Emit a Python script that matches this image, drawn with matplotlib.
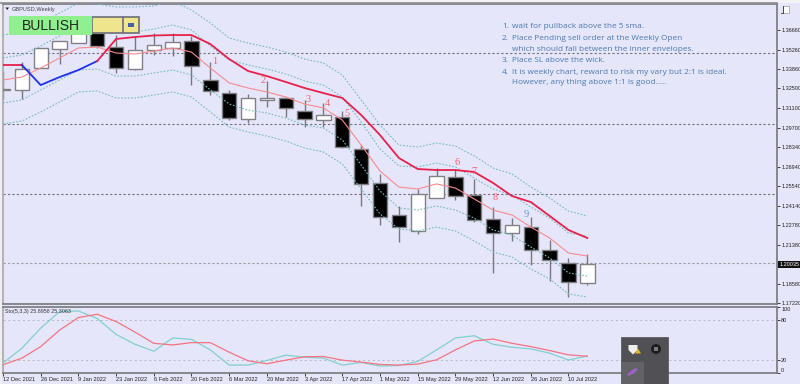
import matplotlib
matplotlib.use('Agg')
import matplotlib.pyplot as plt
from matplotlib.patches import Rectangle, Ellipse, Polygon, Circle

# weekly candles
dates = ['12 Dec 2021', '26 Dec 2021', '9 Jan 2022', '23 Jan 2022', '6 Feb 2022', '20 Feb 2022',
         '6 Mar 2022', '20 Mar 2022', '3 Apr 2022', '17 Apr 2022', '1 May 2022', '15 May 2022',
         '29 May 2022', '12 Jun 2022', '26 Jun 2022', '10 Jul 2022']
opens = [1.3246, 1.3239, 1.3395, 1.3531, 1.3573, 1.3645, 1.3545, 1.3388, 1.3524, 1.3538, 1.3588, 1.3310,
         1.3217, 1.3032, 1.3168, 1.3182, 1.3089, 1.3025, 1.3047, 1.2819, 1.2577, 1.2349, 1.2235, 1.2470,
         1.2619, 1.2491, 1.2320, 1.2221, 1.2263, 1.2100, 1.2007, 1.1865]
closes = [1.3239, 1.3388, 1.3538, 1.3588, 1.3673, 1.3552, 1.3395, 1.3524, 1.3559, 1.3581, 1.3410, 1.3232,
          1.3039, 1.3182, 1.3182, 1.3111, 1.3032, 1.3061, 1.2833, 1.2570, 1.2335, 1.2263, 1.2498, 1.2627,
          1.2484, 1.2313, 1.2221, 1.2278, 1.2100, 1.2028, 1.1872, 1.2003]
highs = [1.3374, 1.3438, 1.3538, 1.3588, 1.3673, 1.3645, 1.3630, 1.3623, 1.3645, 1.3645, 1.3623, 1.3438,
         1.3239, 1.3210, 1.3303, 1.3189, 1.3168, 1.3146, 1.3089, 1.2847, 1.2641, 1.2413, 1.2534, 1.2683,
         1.2676, 1.2605, 1.2406, 1.2327, 1.2335, 1.2171, 1.2043, 1.2071]
lows = [1.3175, 1.3175, 1.3395, 1.3424, 1.3573, 1.3538, 1.3360, 1.3381, 1.3488, 1.3481, 1.3274, 1.3203,
        1.3025, 1.3004, 1.3118, 1.3047, 1.2975, 1.2975, 1.2826, 1.2413, 1.2278, 1.2157, 1.2214, 1.2470,
        1.2456, 1.2299, 1.1936, 1.2164, 1.1990, 1.1879, 1.1765, 1.1850]

# moving averages and envelopes
sma_bold = [1.3417, 1.3417, 1.3274, 1.3331, 1.3381, 1.3445, 1.3602, 1.3616, 1.3627, 1.3630, 1.3630, 1.3566,
            1.3459, 1.3374, 1.3338, 1.3296, 1.3253, 1.3217, 1.3182, 1.3061, 1.2918, 1.2755, 1.2676, 1.2669,
            1.2669, 1.2655, 1.2577, 1.2484, 1.2441, 1.2342, 1.2242, 1.2185]
sma_thin = [1.3310, 1.3331, 1.3395, 1.3467, 1.3538, 1.3545, 1.3502, 1.3495, 1.3516, 1.3538, 1.3509, 1.3395,
            1.3289, 1.3253, 1.3225, 1.3189, 1.3139, 1.3111, 1.3025, 1.2847, 1.2662, 1.2548, 1.2534, 1.2570,
            1.2541, 1.2463, 1.2384, 1.2349, 1.2263, 1.2185, 1.2078, 1.2057]
env_outer_up = [1.3630, 1.3652, 1.3716, 1.3787, 1.3858, 1.3851, 1.3830, 1.3830, 1.3837, 1.3872, 1.3808, 1.3716,
                1.3609, 1.3573, 1.3545, 1.3509, 1.3459, 1.3431, 1.3346, 1.3168, 1.2990, 1.2847, 1.2833, 1.2861,
                1.2840, 1.2769, 1.2683, 1.2641, 1.2548, 1.2470, 1.2377, 1.2342]
env_inner_up = [1.3467, 1.3488, 1.3552, 1.3623, 1.3695, 1.3702, 1.3659, 1.3652, 1.3673, 1.3702, 1.3666, 1.3552,
                1.3452, 1.3417, 1.3388, 1.3353, 1.3303, 1.3274, 1.3189, 1.3011, 1.2819, 1.2698, 1.2691, 1.2719,
                1.2691, 1.2612, 1.2534, 1.2491, 1.2406, 1.2327, 1.2221, 1.2199]
env_inner_dn = [1.3146, 1.3168, 1.3239, 1.3310, 1.3381, 1.3388, 1.3338, 1.3338, 1.3360, 1.3381, 1.3346, 1.3239,
                1.3139, 1.3096, 1.3075, 1.3039, 1.2990, 1.2968, 1.2883, 1.2705, 1.2520, 1.2399, 1.2384, 1.2413,
                1.2384, 1.2327, 1.2242, 1.2206, 1.2121, 1.2043, 1.1936, 1.1914]
env_outer_dn = [1.2997, 1.3018, 1.3082, 1.3153, 1.3225, 1.3232, 1.3182, 1.3182, 1.3203, 1.3225, 1.3189, 1.3082,
                1.2975, 1.2940, 1.2911, 1.2876, 1.2826, 1.2797, 1.2712, 1.2534, 1.2356, 1.2249, 1.2235, 1.2263,
                1.2235, 1.2164, 1.2085, 1.2050, 1.1964, 1.1893, 1.1786, 1.1765]

# stochastic
sto_main = [15, 37.5, 68, 93, 94, 82.5, 58.5, 43.5, 33, 53, 51, 35, 12, 12, 19, 27, 24, 22.5, 12, 16, 10.5, 11.5,
            17.5, 35, 53, 56.5, 43.5, 39, 36.5, 30, 19.5, 25.9]
sto_signal = [12.5, 22.5, 40, 65, 84, 89, 78, 62, 45, 42.5, 46, 46, 31.5, 18.5, 14, 19.5, 24.5, 25, 19.5, 16.5, 13,
              12, 13.5, 20, 35, 48.5, 51.5, 45, 40, 34, 27.5, 25.3]

price_ticks = [1.36660, 1.35260, 1.33860, 1.32500, 1.31100, 1.29700, 1.28340, 1.26940, 1.25540, 1.24140,
               1.22780, 1.21380, 1.18580, 1.17220]
grid_levels = [1.35, 1.30, 1.25]
last_price = 1.20035

# number labels on the chart: text, candle position, price
mark_text = ['1', '2', '3', '4', '5', '6', '7', '8', '9']
mark_x = [11.25, 13.8, 16.2, 17.2, 18.25, 24.1, 25.0, 26.1, 27.75]
mark_y = [1.3445, 1.3303, 1.3168, 1.3146, 1.3075, 1.2726, 1.2662, 1.2470, 1.2349]

notes = ['1.', '2.', '', '3.', '4.', '']
note_lines = ['wait for pullback above the 5 sma.',
              'Place Pending sell order at the Weekly Open',
              'which should fall between the inner envelopes.',
              'Place SL above the wick.',
              'It is weekly chart, reward to risk my vary but 2:1 is ideal.',
              'However, any thing above 1:1 is good.....']

BG = '#e6e6fa'
W, H = 800, 384


def panel(x0, y0, x1, y1):
    return [x0 / W, 1 - y1 / H, (x1 - x0) / W, (y1 - y0) / H]


plt.rcParams['font.family'] = ['Liberation Sans', 'DejaVu Sans']
fig = plt.figure(figsize=(8, 3.84), dpi=100, facecolor=BG)
ax = fig.add_axes(panel(3, 4, 777, 304), facecolor=BG)
ax2 = fig.add_axes(panel(3, 307, 777, 373), facecolor=BG)

x = list(range(len(opens)))
xmax = (777 - 3) / 18.85

# grid under everything
for lvl in grid_levels:
    ax.axhline(lvl, color='#6f7078', lw=0.8, ls=(0, (2, 2)), zorder=1)
ax.axhline(last_price, color='#9a9aa2', lw=0.8, ls=(0, (2, 2)), zorder=1)

# candles
for i in x:
    bull = closes[i] > opens[i]
    top = max(opens[i], closes[i])
    bot = min(opens[i], closes[i])
    ax.vlines(i, lows[i], highs[i], color='#77777d', lw=1.0, zorder=2)
    ax.bar(i, top - bot, bottom=bot, width=0.76, color='white' if bull else 'black',
           edgecolor='#808086', linewidth=1.0, zorder=3)

# envelopes
for env in [env_outer_up, env_inner_up, env_inner_dn, env_outer_dn]:
    ax.plot(x, env, color='#74bcc0', lw=0.8, ls=(0, (1.5, 1.5)), zorder=4)

ax.plot(x, sma_thin, color='#f98a8e', lw=0.8, zorder=5)
ax.plot(x[:2], sma_bold[:2], color='#e8204c', lw=1.3, zorder=5)
ax.plot(x[1:6], sma_bold[1:6], color='#1f2ff0', lw=1.3, zorder=5)
ax.plot(x[5:], sma_bold[5:], color='#e8204c', lw=1.3, zorder=5)

for t, mx, my in zip(mark_text, mark_x, mark_y):
    col = '#6f8fd6' if t == '9' else '#f4606a'
    ax.text(mx, my, t, color=col, fontsize=7.5, family='Liberation Serif', ha='center', va='center', zorder=6)

ax.set_xlim(0, xmax)
ax.set_ylim(1.17151, 1.38511)
ax.yaxis.tick_right()
ax.set_yticks(price_ticks)
ax.set_yticklabels(['%.5f' % p for p in price_ticks])
ax.tick_params(axis='y', length=2, width=0.6, pad=1, labelsize=4, colors='#222222')
ax.set_xticks([])

# stochastic panel
ax2.axhline(80, color='#b8b8c0', lw=0.7, ls=(0, (2, 3)))
ax2.axhline(20, color='#b8b8c0', lw=0.7, ls=(0, (2, 3)))
ax2.plot(x, sto_main, color='#7fd0d0', lw=0.9, zorder=3)
ax2.plot(x, sto_signal, color='#f47480', lw=0.9, zorder=3)
ax2.set_xlim(0, xmax)
ax2.set_ylim(0, 100)
ax2.yaxis.tick_right()
ax2.set_yticks([100, 80, 20, 0])
ax2.set_yticklabels(['100', '80', '20', '0'])
ax2.tick_params(axis='y', length=2, width=0.6, pad=1, labelsize=4, colors='#222222')
ax2.get_yticklabels()[0].set_va('top')
ax2.get_yticklabels()[3].set_va('bottom')
ax2.set_xticks(range(0, 2 * len(dates), 2))
ax2.set_xticklabels(dates, ha='left')
ax2.tick_params(axis='x', length=2, width=0.6, pad=1, labelsize=4.1, colors='#222222')

for a in (ax, ax2):
    for s in a.spines.values():
        s.set_color('#77777d')
        s.set_linewidth(1.2)
    a.spines['left'].set_color('#a8a8ac')

ax2.text(2 / 774, 0.93, 'Sto(5,3,3) 25.8958 25.3063', transform=ax2.transAxes, fontsize=3.9,
         color='#333333', va='center', zorder=6)

# overlay in pixel coordinates for the terminal bits
ov = fig.add_axes([0, 0, 1, 1], facecolor='none')
ov.set_xlim(0, W)
ov.set_ylim(H, 0)
ov.axis('off')
ov.add_patch(Rectangle((0, 0), W, 2.5, fc='#f3f3f6', ec='none'))
ov.plot([0, 777], [3, 3], color='#8c8c90', lw=1.2)
ov.add_patch(Rectangle((0, 0), 2, H, fc='#efeff2', ec='none'))

ov.text(12, 9, 'GBPUSD,Weekly', fontsize=4.1, color='#444444', va='center')
ov.add_patch(Polygon([[5.5, 7.5], [9, 7.5], [7.2, 10]], fc='#222222', ec='none'))

ov.add_patch(Rectangle((92, 17), 47, 15.5, fc='#efe58c', ec='#77777d', lw=1.3))
ov.plot([123, 123], [17, 32.5], color='#77777d', lw=1.3)
ov.add_patch(Rectangle((127.5, 22.5), 6, 4, fc='#4a5ea0', ec='none'))
ov.add_patch(Rectangle((9, 16), 83, 19, fc='#90f090', ec='none'))
ov.text(50.5, 25.5, 'BULLISH', fontsize=10, color='#1c2a1c', ha='center', va='center')

note_y = [27, 38, 49.5, 61, 72, 83]
for y, n, line in zip(note_y, notes, note_lines):
    ov.text(502, y, n, fontsize=5.95, color='#4a78ac', family='Open Sans', va='center')
    ov.text(512, y, line, fontsize=5.95, color='#4a78ac', family='Open Sans', va='center')

# current price box
ov.add_patch(Rectangle((777.5, 260.5), 22.5, 7, fc='#111111', ec='none'))
ov.text(780, 264, '%.5f' % last_price, fontsize=4, color='white', va='center')

# corner box at the top of the price scale
ov.add_patch(Rectangle((783, 6), 6, 6.5, fc='white', ec='#999999', lw=0.5))
ov.plot([783, 783, 781], [6, 12.5, 12.5], color='#333333', lw=0.6)

# tray popup over the chart
ov.add_patch(Rectangle((621, 337), 47, 47, fc='#515155', ec='#5c5c60', lw=0.6, zorder=8))
ov.add_patch(Rectangle((622, 362), 22, 22, fc='#626267', ec='none', zorder=8))
ov.add_patch(Polygon([[628.5, 345], [637.5, 345], [637.5, 350], [633, 354.5], [628.5, 350]],
                     fc='#eeeeee', ec='none', zorder=9))
ov.add_patch(Polygon([[635, 353.5], [638, 348.5], [641, 353.5]], fc='#e8b820', ec='none', zorder=10))
ov.add_patch(Circle((656, 349), 5, fc='#1d1d20', ec='none', zorder=9))
ov.add_patch(Rectangle((654, 347), 4, 4, fc='#77777c', ec='none', zorder=10))
ov.add_patch(Ellipse((632.5, 372), 12, 3.5, angle=-35, fc='#9a62c8', ec='none', zorder=9))

fig.savefig('out.png', dpi=100, facecolor=BG)
